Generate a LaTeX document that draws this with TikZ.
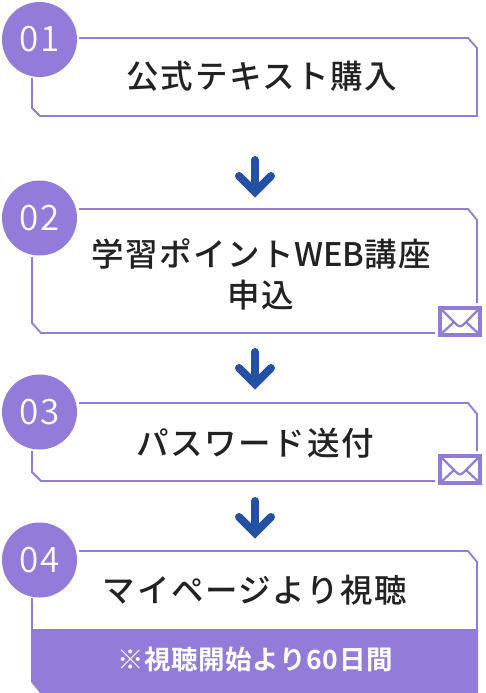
\documentclass[tikz,border=0pt]{standalone}
\usepackage{fontspec}
\setmainfont{Noto Sans CJK JP Medium}[LetterSpace=5]
\newfontfamily\numfont{Noto Sans CJK JP DemiLight}[LetterSpace=6]
\newfontfamily\noticefont{Noto Sans CJK JP Bold}[LetterSpace=2.5]
\newfontfamily\latinfont{Noto Sans CJK JP Medium}[LetterSpace=0]
\definecolor{pur}{HTML}{937BD9}
\definecolor{arrowblue}{HTML}{2551A5}
\definecolor{ink}{HTML}{222222}
\tikzset{
  frame/.style={draw=pur,line width=1.8pt,line join=miter},
  numcircle/.style={circle,fill=pur,inner sep=0pt,minimum size=75pt,text=white,font=\numfont\fontsize{35}{35}\selectfont},
  title/.style={text=ink,font=\fontsize{32.5}{38}\selectfont,align=center,inner sep=0pt},
  chev/.style={draw=arrowblue,line width=8pt,line cap=round,line join=miter},
  env/.style={draw=pur,line width=4pt,fill=white},
  envfold/.style={draw=pur,line width=2.2pt},
}
\begin{document}
\begin{tikzpicture}[x=1pt,y=-1pt]
\useasboundingbox (0,0) rectangle (485,693);
% frames
\draw[frame] (32,78) -- (32,108) -- (40,116) -- (477,116) -- (477,48) -- (468,38) -- (79,38);
\draw[frame] (32,257) -- (32,323) -- (41,333) -- (435,333);
\draw[frame] (79,209) -- (468,209) -- (477,220) -- (477,303);
\draw[frame] (32,451) -- (32,472) -- (41,481) -- (435,481);
\draw[frame] (79,403) -- (468,403) -- (477,414) -- (477,451);
\draw[frame] (32,598) -- (32,630);
\draw[frame] (79,551) -- (468,551) -- (477,562) -- (477,630);
\fill[pur] (31,629) -- (478,629) -- (478,693) -- (40,693) -- (31,682) -- cycle;
% circles
\node[numcircle] (n1) at (39.5,39.5) {01};
\node[numcircle] (n2) at (39.5,218) {02};
\node[numcircle] (n3) at (39.5,412) {03};
\node[numcircle] (n4) at (39.5,560) {04};
% titles
\node[title] (t1) at (262,76) {公式テキスト購入};
\node[title] (t2) at (261,274) {学習ポイント{\latinfont WEB}講座\\[3pt]申込};
\node[title] (t3) at (255,443) {パスワード送付};
\node[title] (t4) at (255,590) {マイページより視聴};
\node[text=white,font=\noticefont\fontsize{26.5}{26.5}\selectfont,inner sep=0pt] (t5) at (255,659) {※視聴開始より60日間};
% arrows
\foreach \y in {0,192,341}{
  \draw[chev] (255,160+\y) -- (255,191+\y);
  \draw[chev] (239,176+\y) -- (255,192+\y) -- (271,176+\y);
}
% envelopes
\foreach \y in {306,454}{
  \draw[env] (440,\y+2) rectangle (480,\y+29);
  \draw[envfold] (440,\y+2) -- (456,\y+18) .. controls (459,\y+21) and (461,\y+21) .. (464,\y+18) -- (480,\y+2);
  \draw[envfold] (440,\y+29) -- (454,\y+16);
  \draw[envfold] (480,\y+29) -- (466,\y+16);
}
\end{tikzpicture}
\end{document}
